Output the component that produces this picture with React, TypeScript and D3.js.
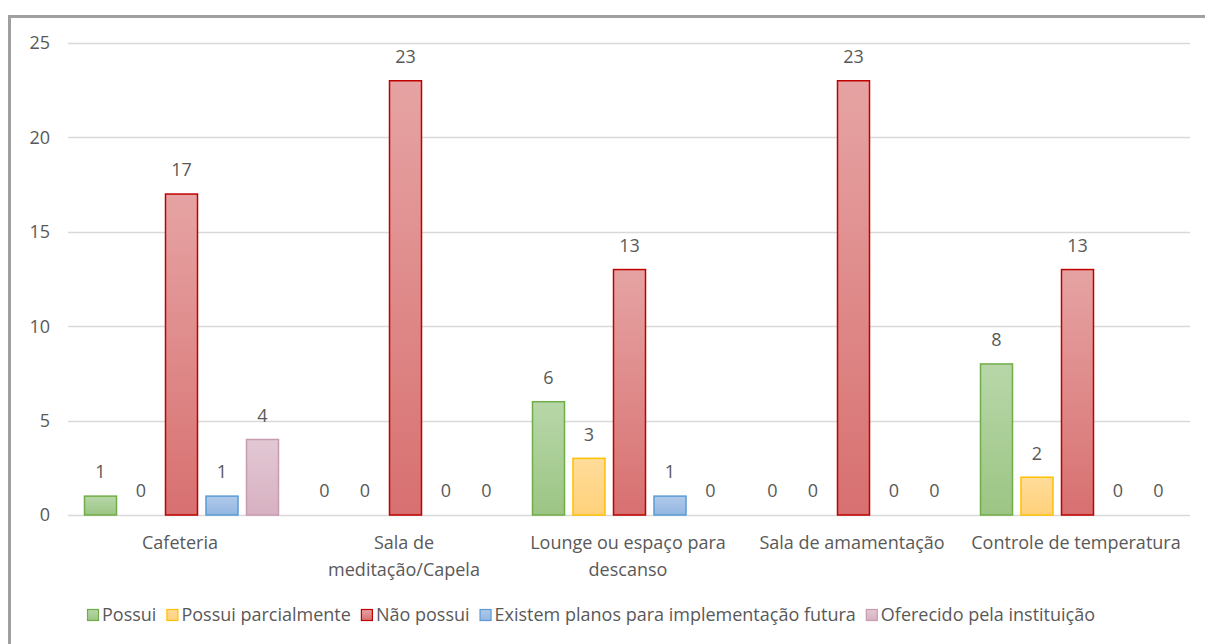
import React, { useEffect, useRef } from 'react';
import * as d3 from 'd3';

const categories = [
  ['Cafeteria'],
  ['Sala de', 'meditação/Capela'],
  ['Lounge ou espaço para', 'descanso'],
  ['Sala de amamentação'],
  ['Controle de temperatura'],
];
const seriesNames = [
  'Possui',
  'Possui parcialmente',
  'Não possui',
  'Existem planos para implementação futura',
  'Oferecido pela instituição',
];
const possui = [1, 0, 6, 0, 8];
const parcial = [0, 0, 3, 0, 2];
const naoPossui = [17, 23, 13, 23, 13];
const planos = [1, 0, 1, 0, 0];
const oferecido = [4, 0, 0, 0, 0];
const yTicks = [0, 5, 10, 15, 20, 25];

// top colour, bottom colour, stroke
const palette = [
  ['#b8d7a9', '#9cc584', '#70ad47'],
  ['#ffdc9a', '#ffd17a', '#ffc000'],
  ['#e6a3a3', '#d87070', '#c00000'],
  ['#b0c9ea', '#93b6e2', '#5b9bd5'],
  ['#e3c8d4', '#d7b1c1', '#c79bb0'],
];

const W = 1205;
const H = 644;
const FONT = '"Open Sans", "DejaVu Sans", sans-serif';
const FS = 18;
const TXT = '#595959';

const App: React.FC = () => {
  const svgRef = useRef<SVGSVGElement>(null);

  useEffect(() => {
    if (!svgRef.current) return;
    const svg = d3.select(svgRef.current);
    svg.selectAll('*').remove();

    const values = [possui, parcial, naoPossui, planos, oferecido];

    // frame
    svg.append('rect').attr('width', W).attr('height', H).attr('fill', '#fff');
    svg.append('path')
      .attr('d', `M9.5,${H} V16.5 H${W}`)
      .attr('fill', 'none')
      .attr('stroke', '#a0a0a0')
      .attr('stroke-width', 3);

    const defs = svg.append('defs');
    palette.forEach((p, i) => {
      const g = defs.append('linearGradient')
        .attr('id', `grad${i}`)
        .attr('x1', 0).attr('y1', 0).attr('x2', 0).attr('y2', 1);
      g.append('stop').attr('offset', '0%').attr('stop-color', p[0]);
      g.append('stop').attr('offset', '100%').attr('stop-color', p[1]);
    });

    const x0 = d3.scaleBand<number>()
      .domain(d3.range(categories.length))
      .range([68, 1188]);
    const x1 = d3.scaleBand<number>()
      .domain(d3.range(seriesNames.length))
      .range([16, 211])
      .paddingInner(0.185);
    const y = d3.scaleLinear().domain([0, 25]).range([515, 43]);

    // grid
    svg.append('g')
      .selectAll('line')
      .data(yTicks)
      .join('line')
      .attr('x1', 68).attr('x2', 1190)
      .attr('y1', d => Math.round(y(d)) + 0.5)
      .attr('y2', d => Math.round(y(d)) + 0.5)
      .attr('stroke', '#d9d9d9')
      .attr('stroke-width', 1.5);

    svg.append('g')
      .selectAll('text')
      .data(yTicks)
      .join('text')
      .attr('x', 50)
      .attr('y', d => y(d))
      .attr('dy', '0.35em')
      .attr('text-anchor', 'end')
      .attr('font-family', FONT)
      .attr('font-size', FS)
      .attr('fill', TXT)
      .text(d => d);

    // bars
    categories.forEach((_, ci) => {
      const g = svg.append('g').attr('transform', `translate(${x0(ci)},0)`);
      values.forEach((arr, si) => {
        const v = arr[ci];
        const bx = x1(si)!;
        if (v > 0) {
          g.append('rect')
            .attr('x', bx + 0.5)
            .attr('y', y(v))
            .attr('width', x1.bandwidth() - 1)
            .attr('height', y(0) - y(v))
            .attr('fill', `url(#grad${si})`)
            .attr('stroke', palette[si][2])
            .attr('stroke-width', 1.5);
        }
        g.append('text')
          .attr('x', bx + x1.bandwidth() / 2)
          .attr('y', y(v) - 24)
          .attr('dy', '0.35em')
          .attr('text-anchor', 'middle')
          .attr('font-family', FONT)
          .attr('font-size', FS)
          .attr('fill', TXT)
          .text(v);
      });
    });

    // category labels
    categories.forEach((lines, ci) => {
      const t = svg.append('text')
        .attr('x', x0(ci)! + x0.bandwidth() / 2)
        .attr('y', 543)
        .attr('text-anchor', 'middle')
        .attr('font-family', FONT)
        .attr('font-size', FS)
        .attr('fill', TXT);
      lines.forEach((l, li) => {
        t.append('tspan')
          .attr('x', x0(ci)! + x0.bandwidth() / 2)
          .attr('dy', li === 0 ? '0.35em' : 27)
          .text(l);
      });
    });

    // legend
    const lg = svg.append('g');
    let lx = 87;
    seriesNames.forEach((name, si) => {
      lg.append('rect')
        .attr('x', lx + 0.5).attr('y', 609.5)
        .attr('width', 11).attr('height', 11)
        .attr('fill', `url(#grad${si})`)
        .attr('stroke', palette[si][2])
        .attr('stroke-width', 1.2);
      const t = lg.append('text')
        .attr('x', lx + 15)
        .attr('y', 615)
        .attr('dy', '0.35em')
        .attr('font-family', FONT)
        .attr('font-size', FS)
        .attr('fill', TXT)
        .text(name);
      const w = (t.node() as SVGTextElement).getComputedTextLength();
      lx += 15 + w + 10;
    });
  }, []);

  return (
    <div style={{ position: 'fixed', left: 0, top: 0, width: W, height: H }}>
      <svg ref={svgRef} width={W} height={H} style={{ display: 'block' }} />
    </div>
  );
};

export default App;
